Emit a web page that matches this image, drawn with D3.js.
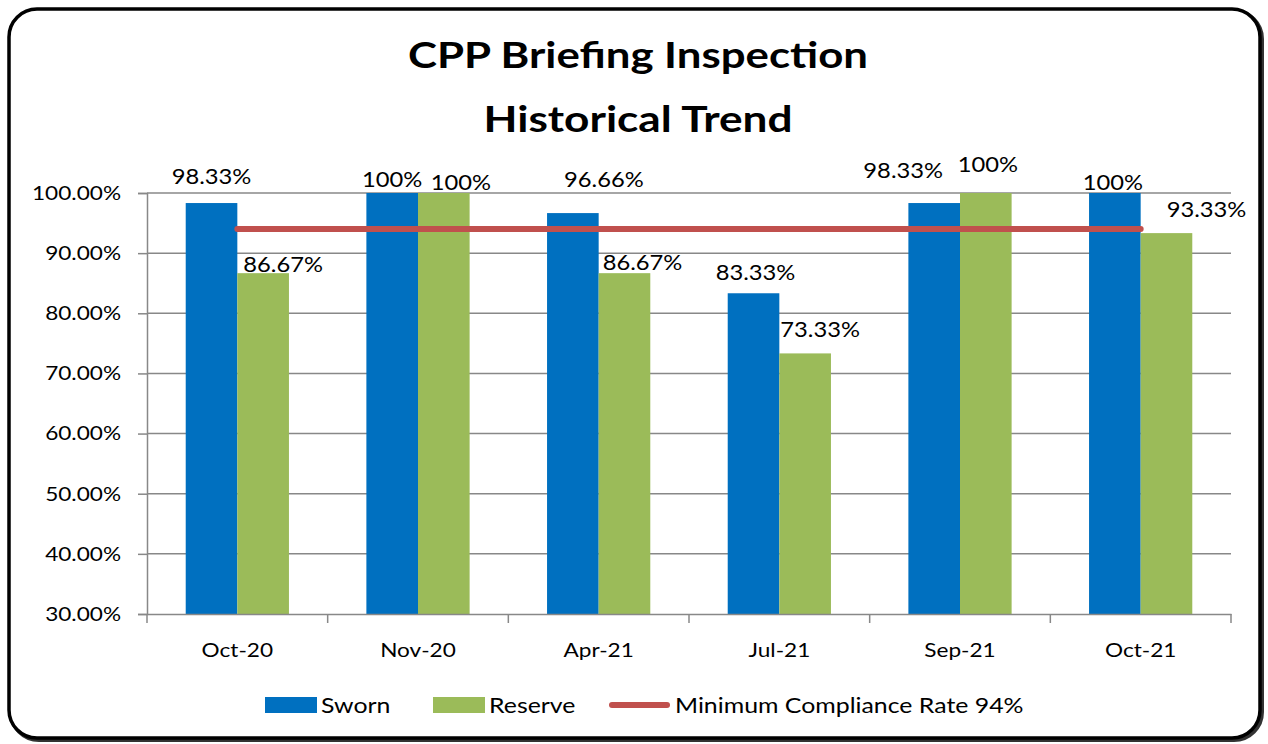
<!DOCTYPE html>
<html>
<head>
<meta charset="utf-8">
<script src="https://cdn.jsdelivr.net/npm/d3@7"></script>
<style>
  html, body { margin: 0; padding: 0; background: #fff; }
  svg { display: block; font-family: Lato, "Open Sans", sans-serif; }
</style>
</head>
<body>
<div id="chart"></div>
<script>
// chart data
const months = ["Oct-20", "Nov-20", "Apr-21", "Jul-21", "Sep-21", "Oct-21"];
const sworn = [0.9833, 1.0, 0.9666, 0.8333, 0.9833, 1.0];
const reserve = [0.8667, 1.0, 0.8667, 0.7333, 1.0, 0.9333];
const swornLabels = ["98.33%", "100%", "96.66%", "83.33%", "98.33%", "100%"];
const reserveLabels = ["86.67%", "100%", "86.67%", "73.33%", "100%", "93.33%"];
const minimumRate = 0.94;
const yTicks = [0.3, 0.4, 0.5, 0.6, 0.7, 0.8, 0.9, 1.0];
const titleLines = ["CPP Briefing Inspection", "Historical Trend"];
const seriesNames = ["Sworn", "Reserve", "Minimum Compliance Rate 94%"];

// label nudges (dx, dy from bar top-centre), labels were dragged by hand in the original
const swornNudge = [[0, -19], [0, -6], [31, -26], [2, -13], [-31, -25], [-2, -3]];
const reserveNudge = [[20, -1], [17, -3], [18, -3], [15, -16], [2, -21], [40, -16]];

const W = 1268, H = 744;
const plot = { left: 147, right: 1231, top: 193, bottom: 614 };
const colors = { sworn: "#0070C0", reserve: "#9BBB59", line: "#C0504D", grid: "#888888" };
const widen = 1.13; // the original text is a bit wider than Lato

// stretch text horizontally around its anchor
function stretch(sel, k) {
    sel.each(function () {
        const len = this.getComputedTextLength();
        d3.select(this)
            .attr("textLength", len * k)
            .attr("lengthAdjust", "spacingAndGlyphs");
    });
}

const svg = d3.select("#chart").append("svg")
    .attr("width", W)
    .attr("height", H);

// frame with a little shadow
svg.append("rect")
    .attr("x", 11).attr("y", 11)
    .attr("width", 1251).attr("height", 729)
    .attr("rx", 28)
    .attr("fill", "none").attr("stroke", "#333").attr("stroke-width", 4);
svg.append("rect")
    .attr("x", 9).attr("y", 9)
    .attr("width", 1251).attr("height", 729)
    .attr("rx", 28)
    .attr("fill", "#fff").attr("stroke", "#000").attr("stroke-width", 3.5);

// title
const titleWidths = [460, 309];
svg.append("g")
    .selectAll("text")
    .data(titleLines).enter()
    .append("text")
    .attr("x", 638)
    .attr("y", (d, i) => 68 + i * 64)
    .attr("text-anchor", "middle")
    .attr("textLength", (d, i) => titleWidths[i])
    .attr("lengthAdjust", "spacingAndGlyphs")
    .style("font-weight", "bold")
    .style("font-size", "36px")
    .text(d => d);

const x0 = d3.scaleBand()
    .domain(months)
    .range([plot.left, plot.right]);
const barW = x0.bandwidth() / 3.5;
const x1 = d3.scaleBand()
    .domain(["sworn", "reserve"])
    .range([0.75 * barW, 2.75 * barW]);
const y = d3.scaleLinear()
    .domain([0.3, 1.0])
    .range([plot.bottom, plot.top]);

// gridlines
svg.append("g")
    .selectAll("line")
    .data(yTicks.slice(1)).enter()
    .append("line")
    .attr("x1", plot.left).attr("x2", plot.right)
    .attr("y1", d => y(d)).attr("y2", d => y(d))
    .attr("stroke", colors.grid).attr("stroke-width", 1.5);

// y axis
const yAxis = svg.append("g")
    .attr("transform", "translate(" + plot.left + ",0)")
    .call(d3.axisLeft(y).tickValues(yTicks).tickFormat(d3.format(".2%")).tickSize(9).tickPadding(17));
yAxis.select(".domain").attr("stroke", colors.grid).attr("stroke-width", 1.5);
yAxis.selectAll(".tick line").attr("stroke", colors.grid).attr("stroke-width", 1.5);
yAxis.selectAll(".tick text")
    .attr("fill", "#000")
    .style("font-size", "20px")
    .style("font-family", "Lato, sans-serif")
    .call(stretch, widen);

// bars
const groups = svg.append("g")
    .selectAll("g")
    .data(months).enter()
    .append("g")
    .attr("transform", d => "translate(" + x0(d) + ",0)");

groups.append("rect")
    .attr("x", x1("sworn"))
    .attr("width", x1.bandwidth())
    .attr("y", (d, i) => y(sworn[i]))
    .attr("height", (d, i) => y(0.3) - y(sworn[i]))
    .attr("fill", colors.sworn);

groups.append("rect")
    .attr("x", x1("reserve"))
    .attr("width", x1.bandwidth())
    .attr("y", (d, i) => y(reserve[i]))
    .attr("height", (d, i) => y(0.3) - y(reserve[i]))
    .attr("fill", colors.reserve);

// x axis
const xAxis = svg.append("g")
    .attr("transform", "translate(0," + plot.bottom + ")")
    .call(d3.axisBottom(x0).tickSize(0).tickPadding(29));
xAxis.select(".domain").attr("stroke", colors.grid).attr("stroke-width", 1.5);
xAxis.selectAll(".tick text")
    .attr("fill", "#000")
    .style("font-size", "20px")
    .style("font-family", "Lato, sans-serif")
    .call(stretch, widen);
svg.append("g")
    .selectAll("line")
    .data(months.concat(["end"])).enter()
    .append("line")
    .attr("x1", (d, i) => plot.left + i * x0.step())
    .attr("x2", (d, i) => plot.left + i * x0.step())
    .attr("y1", plot.bottom).attr("y2", plot.bottom + 9)
    .attr("stroke", colors.grid).attr("stroke-width", 1.5);

// minimum compliance line
const lineData = months.map(m => ({ m: m, v: minimumRate }));
svg.append("path")
    .datum(lineData)
    .attr("fill", "none")
    .attr("stroke", colors.line)
    .attr("stroke-width", 6)
    .attr("stroke-linecap", "round")
    .attr("d", d3.line()
        .x(d => x0(d.m) + x0.bandwidth() / 2)
        .y(d => y(d.v)));

// data labels
groups.append("text")
    .attr("class", "dl")
    .attr("text-anchor", "middle")
    .attr("x", (d, i) => x1("sworn") + x1.bandwidth() / 2 + swornNudge[i][0])
    .attr("y", (d, i) => y(sworn[i]) + swornNudge[i][1])
    .text((d, i) => swornLabels[i]);
groups.append("text")
    .attr("class", "dl")
    .attr("text-anchor", "middle")
    .attr("x", (d, i) => x1("reserve") + x1.bandwidth() / 2 + reserveNudge[i][0])
    .attr("y", (d, i) => y(reserve[i]) + reserveNudge[i][1])
    .text((d, i) => reserveLabels[i]);
svg.selectAll("text.dl")
    .style("font-size", "21px")
    .call(stretch, widen);

// legend
const legend = svg.append("g").style("font-size", "22px");
const legendX = [265, 433, 612];
legend.append("rect")
    .attr("x", legendX[0]).attr("y", 697)
    .attr("width", 52).attr("height", 16)
    .attr("fill", colors.sworn);
legend.append("rect")
    .attr("x", legendX[1]).attr("y", 697)
    .attr("width", 52).attr("height", 16)
    .attr("fill", colors.reserve);
legend.append("line")
    .attr("x1", legendX[2]).attr("x2", legendX[2] + 55)
    .attr("y1", 705).attr("y2", 705)
    .attr("stroke", colors.line).attr("stroke-width", 6)
    .attr("stroke-linecap", "round");
legend.selectAll("text.lg")
    .data(seriesNames).enter()
    .append("text")
    .attr("class", "lg")
    .attr("x", (d, i) => legendX[i] + (i === 2 ? 63 : 56))
    .attr("y", 713)
    .text(d => d)
    .call(stretch, widen);
</script>
</body>
</html>
